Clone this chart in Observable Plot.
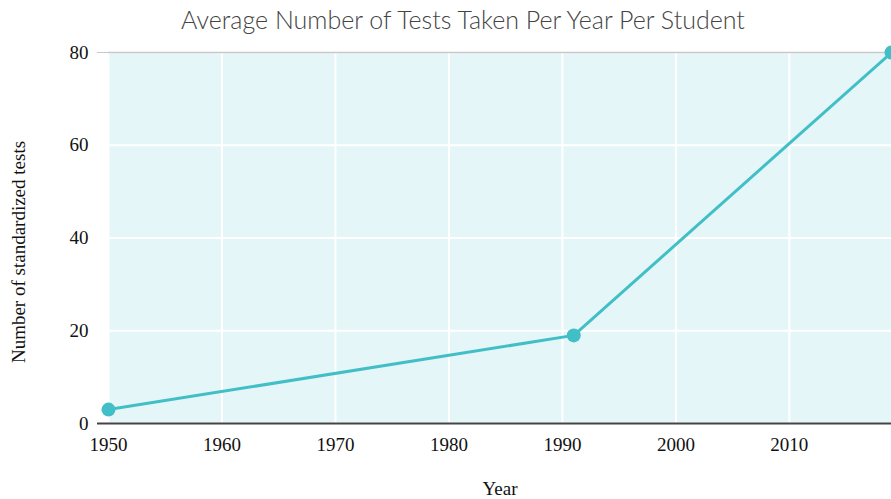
<!DOCTYPE html>
<html>
<head>
<meta charset="utf-8">
<script src="https://cdn.jsdelivr.net/npm/d3@7"></script>
<script src="https://cdn.jsdelivr.net/npm/@observablehq/plot@0.6"></script>
<style>
  html, body { margin: 0; padding: 0; background: #fff; }
  #title { width: 891px; height: 40px; line-height: 38px; text-align: center; box-sizing: border-box; padding-left: 35px;
    font-family: Lato, "Open Sans", sans-serif; font-size: 25px; color: #444; font-weight: 300; }
</style>
</head>
<body>
<div id="title">Average Number of Tests Taken Per Year Per Student</div>
<div id="chart"></div>
<script>
const years = [1950, 1991, 2019];
const tests = [3, 19, 80];
const xTicks = [1950, 1960, 1970, 1980, 1990, 2000, 2010];
const yTicks = [0, 20, 40, 60, 80];

const data = years.map((y, i) => ({year: y, tests: tests[i]}));
const color = "#42bfc6";

const chart = Plot.plot({
  width: 891,
  height: 459,
  marginTop: 12,
  marginBottom: 76,
  marginLeft: 108,
  marginRight: 0,
  style: {fontFamily: "'Liberation Serif', 'Times New Roman', serif", fontSize: "19px", color: "#111", background: "#fff"},
  x: {domain: [1950, 2019]},
  y: {domain: [0, 80]},
  marks: [
    Plot.frame({fill: "#e4f6f8", stroke: null}),
    Plot.gridX(xTicks, {stroke: "#fff", strokeOpacity: 1, strokeWidth: 2}),
    Plot.gridY(yTicks, {stroke: "#fff", strokeOpacity: 1, strokeWidth: 2}),
    Plot.ruleY([80], {stroke: "#c8c8c8", strokeWidth: 1.5}),
    Plot.axisY([80], {tickSize: 11, stroke: "#c8c8c8", text: null, label: null}),
    Plot.axisY([0], {tickSize: 11, stroke: "#444", strokeWidth: 2, text: null, label: null}),
    Plot.axisY(yTicks, {tickSize: 0, tickPadding: 20, tickFormat: d => d, fontSize: 19, label: null}),
    Plot.axisX(xTicks, {tickSize: 0, tickPadding: 14, tickFormat: d => String(d), fontSize: 19,
      label: "Year", labelAnchor: "center", labelArrow: "none", labelOffset: 71}),
    Plot.text(["Number of standardized tests"], {text: d => d, frameAnchor: "left", rotate: -90, textAnchor: "middle",
      dx: -90, dy: 14, fontSize: 19, fill: "#111"}),
    Plot.ruleY([0], {stroke: "#444", strokeWidth: 2}),
    Plot.line(data, {x: "year", y: "tests", stroke: color, strokeWidth: 3, clip: false}),
    Plot.dot(data, {x: "year", y: "tests", r: 7, fill: color, stroke: null, clip: false})
  ]
});
document.getElementById("chart").appendChild(chart);
</script>
</body>
</html>
